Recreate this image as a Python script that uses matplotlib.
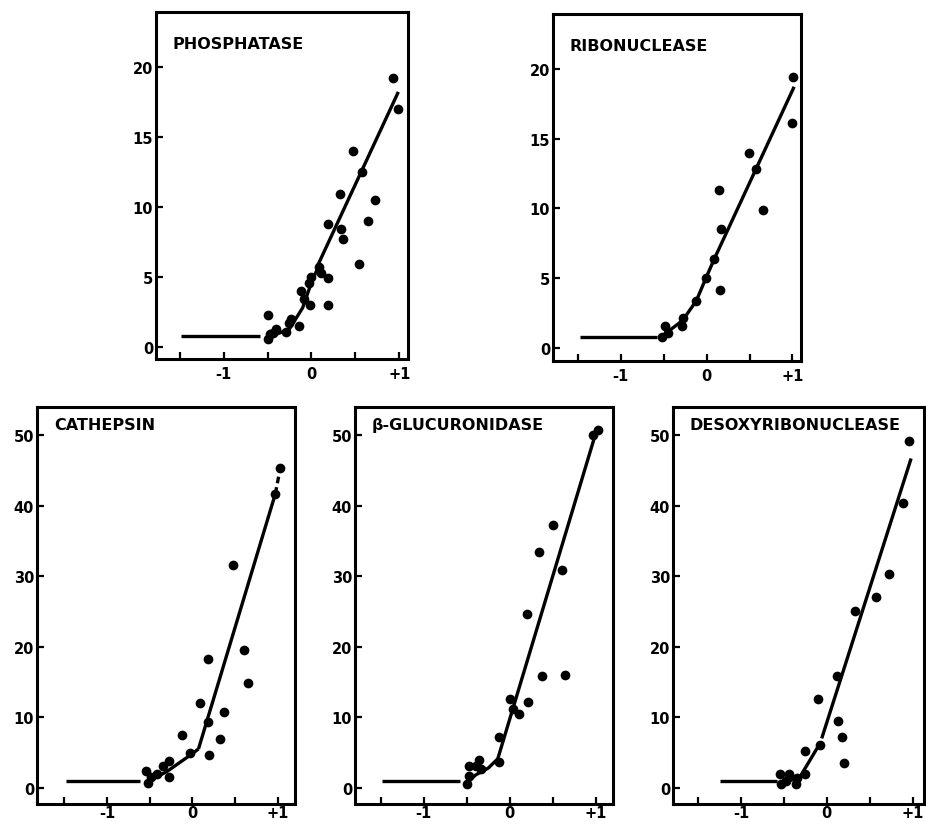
import matplotlib.pyplot as plt
from matplotlib.ticker import FixedLocator

W, H = 926, 828

# ---- data (x = log scale value, y = activity) ----
phos_x = [-0.50, -0.50, -0.47, -0.44, -0.40, -0.29, -0.25, -0.23, -0.14, -0.12,
          -0.08, -0.03, -0.02, 0.00, 0.09, 0.11, 0.19, 0.19, 0.19, 0.32,
          0.34, 0.36, 0.47, 0.54, 0.58, 0.65, 0.72, 0.93, 0.99]
phos_y = [2.3, 0.6, 0.9, 1.0, 1.3, 1.1, 1.7, 2.0, 1.5, 4.0,
          3.4, 4.6, 3.0, 5.0, 5.7, 5.3, 4.9, 3.0, 8.8, 10.9,
          8.4, 7.7, 14.0, 5.9, 12.5, 9.0, 10.5, 19.2, 17.0]
phos_lines = [([-1.48, -0.58], [0.8, 0.8]),
              ([-0.52, -0.25, -0.10, 0.0, 0.07], [0.6, 1.3, 2.8, 4.6, 5.6]),
              ([0.07, 0.99], [5.8, 18.2])]

ribo_x = [-0.52, -0.48, -0.45, -0.29, -0.28, -0.12, -0.01, 0.09, 0.15, 0.16,
          0.17, 0.49, 0.57, 0.66, 0.99, 1.01]
ribo_y = [0.8, 1.6, 1.1, 1.6, 2.2, 3.4, 5.0, 6.4, 11.3, 4.2,
          8.5, 14.0, 12.8, 9.9, 16.1, 19.4]
ribo_lines = [([-1.48, -0.58], [0.8, 0.8]),
              ([-0.52, -0.45, -0.28, -0.12, -0.01, 0.09], [0.8, 1.2, 2.0, 3.4, 5.0, 6.4]),
              ([0.09, 1.02], [6.4, 18.7])]

cath_x = [1.02, 0.97, 0.48, 0.18, 0.60, 0.65, 0.09, 0.37, 0.18, -0.12,
          0.32, 0.19, -0.03, -0.28, -0.35, -0.28, -0.54, -0.48, -0.52, -0.42]
cath_y = [45.4, 41.6, 31.6, 18.3, 19.5, 14.8, 12.0, 10.7, 9.3, 7.5,
          6.9, 4.6, 4.9, 3.8, 3.1, 1.5, 2.4, 1.5, 0.7, 1.9]
cath_lines = [([-1.48, -0.62], [0.9, 0.9]),
              ([-0.50, -0.30, -0.03, 0.07], [1.0, 2.3, 4.6, 5.5]),
              ([0.07, 0.97], [5.5, 41.7])]
cath_dash = ([0.97, 1.03], [41.7, 45.5])

gluc_x = [1.02, 0.97, 0.50, 0.34, 0.61, 0.20, 0.38, 0.64, 0.00, 0.21,
          0.04, 0.11, -0.12, -0.12, -0.36, -0.39, -0.34, -0.48, -0.47, -0.50]
gluc_y = [50.8, 50.0, 37.2, 33.4, 30.9, 24.6, 15.9, 16.0, 12.6, 12.2,
          11.2, 10.5, 7.2, 3.7, 3.9, 3.1, 2.6, 3.1, 1.7, 0.5]
gluc_lines = [([-1.49, -0.58], [0.9, 0.9]),
              ([-0.50, -0.40, -0.25, -0.14], [0.6, 1.8, 2.8, 4.1]),
              ([-0.14, 0.98], [4.1, 49.5])]

deso_x = [0.96, 0.89, 0.72, 0.57, 0.33, 0.12, -0.10, 0.13, 0.18, 0.20,
          -0.08, -0.26, -0.26, -0.35, -0.44, -0.54, -0.53, -0.47, -0.36]
deso_y = [49.2, 40.4, 30.3, 27.0, 25.1, 15.9, 12.6, 9.4, 7.2, 3.5,
          6.0, 5.2, 1.9, 1.4, 1.9, 1.9, 0.5, 0.9, 0.5]
deso_lines = [([-1.24, -0.58], [0.95, 0.95]),
              ([-0.47, -0.31, -0.08], [0.8, 1.6, 6.3]),
              ([-0.06, 0.98], [7.0, 46.7])]

x_ticks = [-1.5, -1.0, -0.5, 0.0, 0.5, 1.0]
x_labels = ["", "-1", "", "0", "", "+1"]
top_yticks = [0, 5, 10, 15, 20]
bot_yticks = [0, 10, 20, 30, 40, 50]


def make_axes(fig, left, top, right, bottom):
    # pixel box -> figure fraction
    return fig.add_axes([left / W, 1 - bottom / H, (right - left) / W, (bottom - top) / H])


def panel(ax, title, xs, ys, lines, yticks, xlim, ylim, title_y, xpad=5):
    for lx, ly in lines:
        ax.plot(lx, ly, color="black", linewidth=2.4, solid_capstyle="butt")
    ax.plot(xs, ys, "o", color="black", markersize=7, markeredgewidth=0)

    ax.set_xlim(*xlim)
    ax.set_ylim(*ylim)
    ax.xaxis.set_major_locator(FixedLocator(x_ticks))
    ax.set_xticklabels(x_labels)
    ax.set_yticks(yticks)
    ax.tick_params(axis="both", direction="in", length=5, width=1.6,
                   labelsize=10.5, pad=2)
    ax.tick_params(axis="x", pad=xpad)
    for lab in ax.get_xticklabels() + ax.get_yticklabels():
        lab.set_fontweight("bold")
    for sp in ax.spines.values():
        sp.set_linewidth(2.2)
    ax.text(0.065, title_y, title, transform=ax.transAxes, fontsize=11.5,
            fontweight="bold", va="top", ha="left")


fig = plt.figure(figsize=(W / 100, H / 100), dpi=100)

ax1 = make_axes(fig, 156, 13, 408, 360)
panel(ax1, "PHOSPHATASE", phos_x, phos_y, phos_lines, top_yticks,
      (-1.77, 1.1), (-0.85, 23.9), 0.93)

ax2 = make_axes(fig, 553, 15, 801, 362)
panel(ax2, "RIBONUCLEASE", ribo_x, ribo_y, ribo_lines, top_yticks,
      (-1.79, 1.1), (-0.9, 23.9), 0.93)

ax3 = make_axes(fig, 37, 408, 295, 805)
panel(ax3, "CATHEPSIN", cath_x, cath_y, cath_lines, bot_yticks,
      (-1.82, 1.2), (-2.3, 54.0), 0.975, xpad=1)
ax3.plot(*cath_dash, color="black", linewidth=2.4, linestyle=(0, (2, 1.2)))

ax4 = make_axes(fig, 355, 408, 613, 805)
panel(ax4, "β-GLUCURONIDASE", gluc_x, gluc_y, gluc_lines, bot_yticks,
      (-1.80, 1.2), (-2.3, 54.0), 0.975, xpad=1)

ax5 = make_axes(fig, 673, 408, 924, 805)
panel(ax5, "DESOXYRIBONUCLEASE", deso_x, deso_y, deso_lines, bot_yticks,
      (-1.79, 1.13), (-2.3, 54.0), 0.975, xpad=1)

fig.savefig("out.png", dpi=100)
